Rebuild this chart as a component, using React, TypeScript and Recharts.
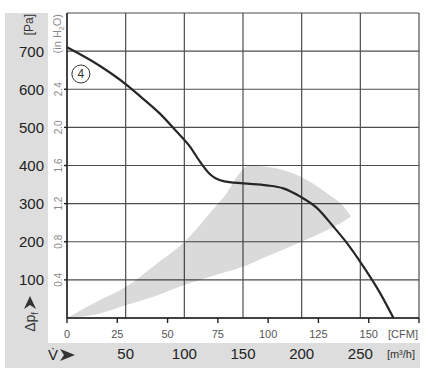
import React from 'react';
import { ComposedChart, Line, Area, XAxis, YAxis, CartesianGrid, ReferenceDot } from 'recharts';

// Fan curve ④ : static pressure (Pa) vs air flow (CFM)
const curveCfm = [0, 16.4, 29.3, 36.3, 46.2, 54.5, 61.2, 66.1, 71.1, 77.7, 87.7, 99.3, 107.5, 115.8, 124.2, 132.4, 139.1, 145.7, 155.6, 162.3];
const curvePa = [710, 661, 613, 582, 536, 489, 449, 410, 377, 359, 353, 348, 340, 319, 289, 240, 197, 148, 66, 0];

// Grey operating zone (low / high pressure bound per CFM)
const zoneCfm = [0, 16.4, 29.3, 44, 58.7, 71.1, 79.4, 86, 90.1, 99.3, 115.8, 129.1, 137.4, 141.2];
const zoneLow = [0, 12, 34, 58, 87, 108, 121, 132, 140, 161, 198, 230, 253, 266];
const zoneHigh = [0, 47, 82, 140, 201, 276, 328, 381, 400, 397, 372, 328, 293, 266];

// Axes
const paTicks = [0, 100, 200, 300, 400, 500, 600, 700, 800];
const inTicks = [0.4, 0.8, 1.2, 1.6, 2.0, 2.4];
const inLabels = ['0.4', '0.8', '1.2', '1.6', '2.0', '2.4'];
const cfmTicks = [0, 25, 50, 75, 100, 125, 150, 175];
const m3Ticks = [0, 50, 100, 150, 200, 250, 300];

const curveData = curveCfm.map((c, i) => ({ cfm: c, pa: curvePa[i] }));
const zoneData = zoneCfm.map((c, i) => ({ cfm: c, zone: [zoneLow[i], zoneHigh[i]] }));
const m3Data = m3Ticks.map((v) => ({ m3: v }));

const FONT = '"Liberation Sans", Arial, Helvetica, sans-serif';

const PaTick = (props: any) => {
  const { x, y, payload } = props;
  if (payload.value === 0 || payload.value === 800) return <g />;
  return (
    <text x={x} y={y} dy="0.36em" textAnchor="end" fontSize={15} fill="#222" fontFamily={FONT}>
      {payload.value}
    </text>
  );
};

const InTick = (props: any) => {
  const { x, y, payload } = props;
  const idx = inTicks.indexOf(payload.value);
  return (
    <text x={x} y={y} dy="0.36em" textAnchor="middle" fontSize={10} fill="#8a8a8a" fontFamily={FONT}
      transform={`rotate(-90, ${x}, ${y})`}>
      {idx >= 0 ? inLabels[idx] : ''}
    </text>
  );
};

const CfmTick = (props: any) => {
  const { x, y, payload } = props;
  const last = payload.value === 175;
  return (
    <text x={last ? x - 1 : x} y={y} dy="0.71em" textAnchor={last ? 'end' : 'middle'} fontSize={11} fill="#555" fontFamily={FONT}>
      {last ? '[CFM]' : payload.value}
    </text>
  );
};

const M3Tick = (props: any) => {
  const { x, y, payload } = props;
  if (payload.value === 0) return <g />;
  if (payload.value === 300) {
    return (
      <text x={x - 4} y={y + 2} dy="0.71em" textAnchor="end" fontSize={11} fill="#333" fontFamily={FONT}>
        [m³/h]
      </text>
    );
  }
  return (
    <text x={x} y={y} dy="0.71em" textAnchor="middle" fontSize={15} fill="#222" fontFamily={FONT}>
      {payload.value}
    </text>
  );
};

const PaTitle = (props: any) => {
  const vb = props.viewBox || { x: 5, y: 13, width: 43, height: 305 };
  const cx = vb.x + 24;
  const ty = vb.y + 1;
  const bottom = vb.y + vb.height;
  const ax = vb.x + 25;
  const tipY = bottom - 22;
  return (
    <g>
      <text x={cx} y={ty} dy="0.36em" textAnchor="end" fontSize={12} fill="#333" fontFamily={FONT}
        transform={`rotate(-90, ${cx}, ${ty})`}>[Pa]</text>
      <path d={`M ${ax} ${tipY} L ${ax + 6} ${tipY + 13} L ${ax} ${tipY + 9} L ${ax - 6} ${tipY + 13} Z`} fill="#333" />
      <text x={ax} y={bottom + 4} dy="0.36em" textAnchor="middle" fontSize={14} fill="#333" fontFamily={FONT}
        transform={`rotate(-90, ${ax}, ${bottom + 4})`}>
        Δp<tspan fontSize={9} dy="3">f</tspan>
      </text>
    </g>
  );
};

const InTitle = (props: any) => {
  const vb = props.viewBox || { x: 48, y: 13, width: 19, height: 305 };
  const cx = vb.x + 9.5;
  const ty = vb.y + 1;
  return (
    <text x={cx} y={ty} dy="0.36em" textAnchor="end" fontSize={11} fill="#8a8a8a" fontFamily={FONT}
      transform={`rotate(-90, ${cx}, ${ty})`}>
      (in H<tspan fontSize={7} dy="3">2</tspan><tspan dy="-3">O)</tspan>
    </text>
  );
};

const VTitle = (props: any) => {
  const vb = props.viewBox || { x: 67, y: 343, width: 352, height: 25 };
  const cy = vb.y + 12;
  const vx = vb.x - 19;
  const ax = vb.x - 7;
  return (
    <g>
      <text x={vx} y={cy} dy="0.36em" textAnchor="start" fontSize={15} fill="#222" fontFamily={FONT}>V̇</text>
      <path d={`M ${ax} ${cy - 6} L ${ax + 15} ${cy} L ${ax} ${cy + 6} L ${ax + 4} ${cy} Z`} fill="#333" />
    </g>
  );
};

export default function App() {
  return (
    <div style={{ position: 'absolute', left: 0, top: 0, width: 429, height: 375, background: '#fff', overflow: 'hidden' }}>
      <div style={{ position: 'absolute', left: 5, top: 13, width: 43, height: 355, background: '#dddddd' }} />
      <div style={{ position: 'absolute', left: 5, top: 343, width: 415, height: 25, background: '#dddddd' }} />
      <div style={{ position: 'absolute', left: 0, top: 0 }}>
        <ComposedChart width={429} height={375} margin={{ top: 13, right: 10, bottom: 7, left: 5 }}>
          <XAxis xAxisId="cfm" type="number" dataKey="cfm" domain={[0, 175]} ticks={cfmTicks} allowDataOverflow
            height={25} tickSize={5} tickMargin={7} stroke="#222" strokeWidth={1.4} tick={<CfmTick />}
            interval={0} />
          <XAxis xAxisId="m3" type="number" dataKey="m3" domain={[0, 300]} ticks={m3Ticks} allowDataOverflow
            height={25} tickSize={0} tickMargin={5} axisLine={false} tickLine={false} tick={<M3Tick />}
            interval={0} label={<VTitle />} />
          <YAxis yAxisId="in" type="number" domain={[0, 3.2]} ticks={inTicks} allowDataOverflow
            width={19} tickSize={3} tickMargin={6} stroke="#222" strokeWidth={1.4} tick={<InTick />}
            interval={0} label={<InTitle />} />
          <YAxis yAxisId="pa" type="number" domain={[0, 800]} ticks={paTicks} allowDataOverflow
            width={43} tickSize={0} tickMargin={4} axisLine={false} tickLine={false} tick={<PaTick />}
            interval={0} label={<PaTitle />} />
          <CartesianGrid xAxisId="m3" yAxisId="pa" stroke="#4d4d4d" strokeWidth={1.2} />
          <Line xAxisId="m3" yAxisId="pa" data={m3Data} dataKey="none" stroke="none" dot={false}
            legendType="none" isAnimationActive={false} />
          <Area xAxisId="cfm" yAxisId="pa" data={zoneData} dataKey="zone" type="monotone"
            fill="#000" fillOpacity={0.145} stroke="none" isAnimationActive={false} />
          <Line xAxisId="cfm" yAxisId="pa" data={curveData} dataKey="pa" type="monotone"
            stroke="#262626" strokeWidth={2.2} dot={false} isAnimationActive={false} />
          <ReferenceDot xAxisId="cfm" yAxisId="pa" x={6.9} y={640} r={9} fill="#fff" stroke="#333" strokeWidth={1}
            label={{ value: '4', position: 'center', fontSize: 12, fill: '#333', fontFamily: FONT }} />
        </ComposedChart>
      </div>
    </div>
  );
}
